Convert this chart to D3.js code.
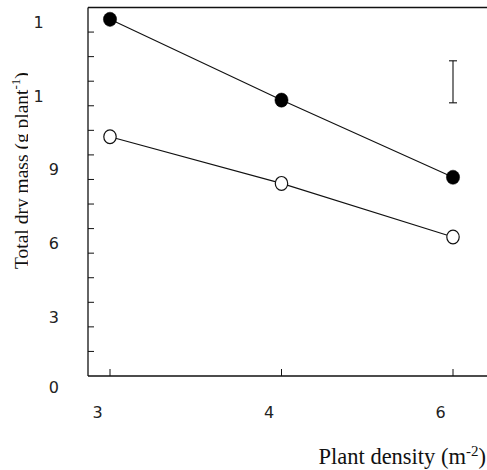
<!DOCTYPE html>
<html>
<head>
<meta charset="utf-8">
<script src="https://cdn.jsdelivr.net/npm/d3@7"></script>
<style>
  html, body { margin: 0; padding: 0; background: #fff; }
  svg { display: block; }
</style>
</head>
<body>
<svg id="chart" width="487" height="470"></svg>
<script>
// ---- data ----
const densities = ["3", "4", "6"];
const filledSeries = [14.52, 11.23, 8.09];
const openSeries = [9.74, 7.84, 5.66];
const errorBar = { x: "6", low: 11.12, high: 12.83 };
const yTickValues = [0, 3, 6, 9, 12, 15];
const yTickLabels = ["0", "3", "6", "9", "1", "1"];
const yMinorTicks = d3.range(1, 15);
const xTickLabels = ["3", "4", "6"];

// ---- layout ----
const svg = d3.select("#chart");
const plotLeft = 88, plotBottom = 376, plotTop = 7.5, plotRight = 487;

const x = d3.scalePoint().domain(densities).range([110, 453]);
const y = d3.scaleLinear().domain([0, 15]).range([plotBottom, plotTop]);

const ink = "#111";

// frame: left axis, bottom axis, top border
svg.append("line").attr("x1", plotLeft).attr("x2", plotLeft).attr("y1", plotTop).attr("y2", plotBottom)
  .attr("stroke", ink).attr("stroke-width", 1.3);
svg.append("line").attr("x1", plotLeft).attr("x2", plotRight).attr("y1", plotBottom).attr("y2", plotBottom)
  .attr("stroke", ink).attr("stroke-width", 1.3);
svg.append("line").attr("x1", plotLeft).attr("x2", plotRight).attr("y1", y(15)).attr("y2", y(15))
  .attr("stroke", ink).attr("stroke-width", 1.3);

// y minor ticks (inward)
svg.append("g").selectAll("line").data(yMinorTicks).join("line")
  .attr("x1", plotLeft).attr("x2", plotLeft + 6)
  .attr("y1", d => y(d)).attr("y2", d => y(d))
  .attr("stroke", ink).attr("stroke-width", 1);

// x ticks (inward)
svg.append("g").selectAll("line").data(densities).join("line")
  .attr("x1", d => x(d)).attr("x2", d => x(d))
  .attr("y1", plotBottom).attr("y2", plotBottom - 7)
  .attr("stroke", ink).attr("stroke-width", 1);

// y tick labels
svg.append("g").selectAll("text").data(yTickValues).join("text")
  .attr("x", d => d >= 10 ? 38.5 : 59)
  .attr("y", d => y(d) + (d === 0 ? 17 : 20.5))
  .attr("text-anchor", d => d >= 10 ? "middle" : "end")
  .attr("font-family", "DejaVu Sans")
  .attr("font-size", 16)
  .attr("fill", "#222")
  .text((d, i) => yTickLabels[i]);

// x tick labels
svg.append("g").selectAll("text").data(densities).join("text")
  .attr("x", d => x(d) - 12.5)
  .attr("y", 418)
  .attr("text-anchor", "middle")
  .attr("font-family", "DejaVu Sans")
  .attr("font-size", 16)
  .attr("fill", "#222")
  .text((d, i) => xTickLabels[i]);

// x axis title
const xt = svg.append("text")
  .attr("x", 486).attr("y", 464)
  .attr("text-anchor", "end")
  .attr("font-family", "Liberation Serif")
  .attr("font-size", 22.5)
  .attr("fill", "#111");
xt.append("tspan").text("Plant density (m");
xt.append("tspan").attr("dy", -8.5).attr("font-size", 15).text("-2");
xt.append("tspan").attr("dy", 8.5).text(")");

// y axis title (clipped on the descender side)
svg.append("defs").append("clipPath").attr("id", "yclip")
  .append("rect").attr("x", 0).attr("y", 0).attr("width", 28).attr("height", 470);
const yt = svg.append("g").attr("clip-path", "url(#yclip)")
  .append("text")
  .attr("transform", "translate(27.5,269) rotate(-90)")
  .attr("text-anchor", "start")
  .attr("font-family", "Liberation Serif")
  .attr("font-size", 19.5)
  .attr("fill", "#111");
yt.append("tspan").text("Total dry mass (g plant");
yt.append("tspan").attr("dy", -7.5).attr("font-size", 13).text("-1");
yt.append("tspan").attr("dy", 7.5).text(")");

// lines
const line = d3.line().x((d, i) => x(densities[i])).y(d => y(d));
svg.append("path").datum(filledSeries).attr("d", line)
  .attr("fill", "none").attr("stroke", ink).attr("stroke-width", 1.1);
svg.append("path").datum(openSeries).attr("d", line)
  .attr("fill", "none").attr("stroke", ink).attr("stroke-width", 1.1);

// markers
svg.append("g").selectAll("ellipse").data(filledSeries).join("ellipse")
  .attr("cx", (d, i) => x(densities[i])).attr("cy", d => y(d))
  .attr("rx", 6.6).attr("ry", 7.1)
  .attr("fill", "#000").attr("stroke", "#000").attr("stroke-width", 0.5);
svg.append("g").selectAll("ellipse").data(openSeries).join("ellipse")
  .attr("cx", (d, i) => x(densities[i])).attr("cy", d => y(d))
  .attr("rx", 6.2).attr("ry", 6.9)
  .attr("fill", "#fff").attr("stroke", ink).attr("stroke-width", 1.2);

// error bar
const ex = x(errorBar.x);
const eb = svg.append("g").attr("stroke", ink).attr("stroke-width", 1.1);
eb.append("line").attr("x1", ex).attr("x2", ex).attr("y1", y(errorBar.high)).attr("y2", y(errorBar.low));
eb.append("line").attr("x1", ex - 4).attr("x2", ex + 4).attr("y1", y(errorBar.high)).attr("y2", y(errorBar.high));
eb.append("line").attr("x1", ex - 4).attr("x2", ex + 4).attr("y1", y(errorBar.low)).attr("y2", y(errorBar.low));
</script>
</body>
</html>
